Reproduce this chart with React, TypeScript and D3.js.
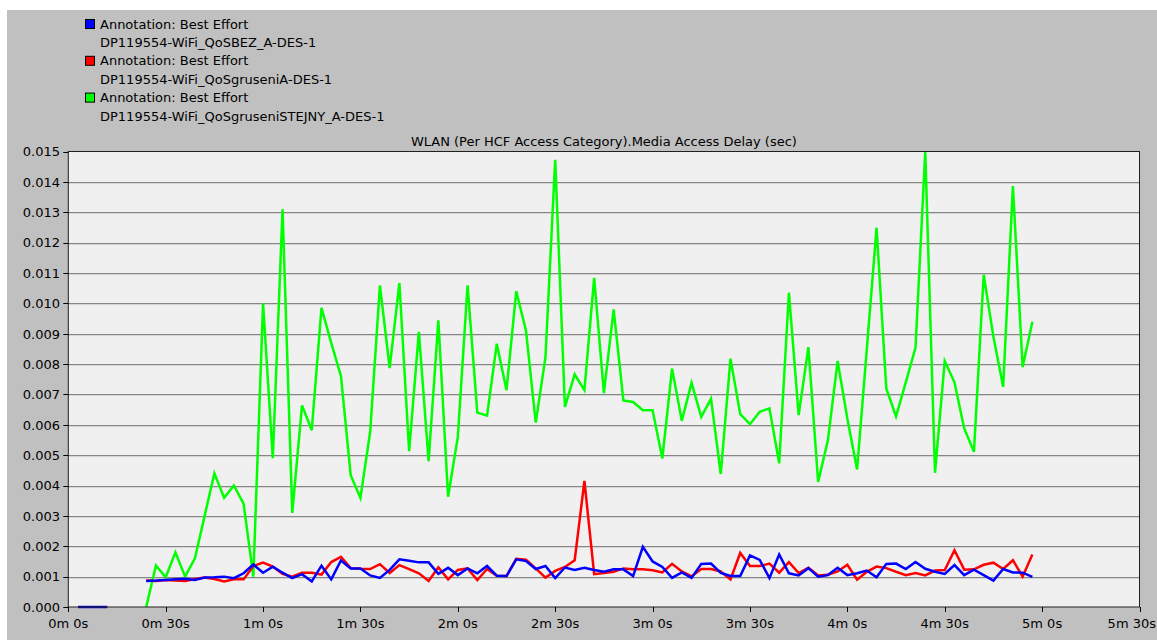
import React from "react";
import * as d3 from "d3";

// ---- data (values in milliseconds, sampled every 3 s starting at 24 s) ----
const startTime = 24;
const step = 3;

const greenValues = [
  0, 1.37, 0.98, 1.8, 1.0, 1.6, 3.0, 4.4, 3.6, 4.0, 3.4, 1.0, 10.0, 4.9, 13.1, 3.1,
  6.64, 5.82, 9.85, 8.7, 7.6, 4.34, 3.59, 5.77, 10.59, 7.87, 10.67, 5.13, 9.06, 4.8,
  9.44, 3.63, 5.6, 10.59, 6.4, 6.3, 8.67, 7.14, 10.4, 9.1, 6.07, 8.23, 14.73, 6.59,
  7.66, 7.14, 10.84, 7.04, 9.8, 6.8, 6.75, 6.48, 6.48, 4.89, 7.85, 6.13, 7.38, 6.26,
  6.86, 4.38, 8.18, 6.35, 6.02, 6.43, 6.54, 4.73, 10.35, 6.32, 8.56, 4.12, 5.49, 8.1,
  6.2, 4.53, 8.5, 12.49, 7.19, 6.28, 7.4, 8.54, 15.0, 4.42, 8.1, 7.4, 5.88, 5.11,
  10.94, 8.9, 7.25, 13.86, 7.9, 9.39,
];

const redValues = [
  0.87, 0.86, 0.89, 0.87, 0.86, 0.92, 0.97, 0.92, 0.84, 0.91, 0.91, 1.35, 1.46, 1.33,
  1.09, 1.0, 1.13, 1.13, 1.07, 1.48, 1.65, 1.28, 1.26, 1.25, 1.41, 1.12, 1.38, 1.25,
  1.11, 0.86, 1.31, 0.91, 1.22, 1.27, 0.89, 1.25, 1.03, 1.02, 1.59, 1.56, 1.27, 0.97,
  1.19, 1.32, 1.54, 4.15, 1.08, 1.12, 1.16, 1.27, 1.24, 1.24, 1.21, 1.14, 1.42, 1.17,
  1.01, 1.25, 1.25, 1.17, 0.91, 1.78, 1.35, 1.35, 1.43, 1.13, 1.48, 1.12, 1.29, 1.04,
  1.06, 1.17, 1.39, 0.9, 1.16, 1.33, 1.28, 1.16, 1.05, 1.12, 1.04, 1.2, 1.22, 1.87,
  1.23, 1.24, 1.39, 1.46, 1.25, 1.54, 1.0, 1.73,
];

const blueValues = [
  0.86, 0.87, 0.89, 0.91, 0.93, 0.89, 0.97, 0.98, 1.0, 0.95, 1.11, 1.4, 1.13, 1.33,
  1.13, 0.95, 1.08, 0.84, 1.36, 0.91, 1.53, 1.27, 1.27, 1.04, 0.96, 1.22, 1.57, 1.52,
  1.47, 1.47, 1.09, 1.29, 1.05, 1.27, 1.11, 1.35, 1.03, 1.02, 1.57, 1.51, 1.25, 1.35,
  0.95, 1.3, 1.22, 1.29, 1.22, 1.16, 1.24, 1.24, 1.02, 1.98, 1.5, 1.32, 0.96, 1.14,
  0.96, 1.42, 1.43, 1.12, 1.02, 1.02, 1.7, 1.55, 0.95, 1.73, 1.11, 1.04, 1.28, 1.0,
  1.05, 1.29, 1.05, 1.11, 1.2, 0.98, 1.42, 1.43, 1.25, 1.48, 1.26, 1.16, 1.09, 1.38,
  1.05, 1.23, 1.05, 0.87, 1.25, 1.14, 1.13, 0.99,
];

// short initial blue segment at zero
const blueStartTimes = [3, 6, 9, 12];
const blueStartValues = [0, 0, 0, 0];

const yTicks = [0, 0.001, 0.002, 0.003, 0.004, 0.005, 0.006, 0.007, 0.008, 0.009, 0.01, 0.011, 0.012, 0.013, 0.014, 0.015];
const xTicks = [0, 30, 60, 90, 120, 150, 180, 210, 240, 270, 300, 330];
const xTickLabels = ["0m 0s", "0m 30s", "1m 0s", "1m 30s", "2m 0s", "2m 30s", "3m 0s", "3m 30s", "4m 0s", "4m 30s", "5m 0s", "5m 30s"];

const legendItems = [
  { color: "#0000ff", line1: "Annotation: Best Effort", line2: "DP119554-WiFi_QoSBEZ_A-DES-1" },
  { color: "#ff0000", line1: "Annotation: Best Effort", line2: "DP119554-WiFi_QoSgruseniA-DES-1" },
  { color: "#00ff00", line1: "Annotation: Best Effort", line2: "DP119554-WiFi_QoSgruseniSTEJNY_A-DES-1" },
];

const title = "WLAN (Per HCF Access Category).Media Access Delay (sec)";

const W = 1157;
const H = 640;
const left = 68.3;
const right = 1139.5;
const top = 151.5;
const bottom = 607;
const FONT = "'DejaVu Sans', sans-serif";
const FS = 13;

export default function App() {
  const x = d3.scaleLinear().domain([0, 330]).range([left, right]);
  const y = d3.scaleLinear().domain([0, 0.015]).range([bottom, top]);

  const toPts = (vals: number[]) =>
    vals.map((v, i) => [startTime + step * i, v / 1000] as [number, number]);

  const line = d3
    .line<[number, number]>()
    .x((d) => x(d[0]))
    .y((d) => y(d[1]));

  const greenPath = line(toPts(greenValues)) || "";
  const redPath = line(toPts(redValues)) || "";
  const bluePath = line(toPts(blueValues)) || "";
  const blueStartPath =
    line(blueStartTimes.map((t, i) => [t, blueStartValues[i]] as [number, number])) || "";

  return (
    <svg
      width={W}
      height={H}
      style={{ position: "absolute", left: 0, top: 0, display: "block" }}
      fontFamily={FONT}
    >
      <rect x={0} y={0} width={W} height={H} fill="#ffffff" />
      <rect x={7} y={10} width={W - 7} height={H - 10} fill="#c0c0c0" />

      {/* legend */}
      {legendItems.map((it, k) => {
        const base = 28.5 + k * 36.8;
        return (
          <g key={k}>
            <rect x={85.5} y={base - 9} width={9} height={9} fill={it.color} stroke="#000" strokeWidth={1} />
            <text x={100} y={base} fontSize={FS} fill="#000">{it.line1}</text>
            <text x={100} y={base + 18.4} fontSize={FS} fill="#000">{it.line2}</text>
          </g>
        );
      })}

      {/* title */}
      <text x={(left + right) / 2} y={146} fontSize={FS} textAnchor="middle" fill="#000">
        {title}
      </text>

      {/* plot background */}
      <rect x={left} y={top} width={right - left} height={bottom - top} fill="#f0f0f0" />

      {/* grid */}
      {yTicks.slice(1, -1).map((t) => (
        <g key={t}>
          <line x1={left} x2={right} y1={Math.round(y(t)) + 0.5} y2={Math.round(y(t)) + 0.5} stroke="#868686" strokeWidth={1} />
          <line x1={left} x2={right} y1={Math.round(y(t)) + 1.5} y2={Math.round(y(t)) + 1.5} stroke="#d4d4d4" strokeWidth={1} />
        </g>
      ))}

      {/* series */}
      <path d={greenPath} fill="none" stroke="#00ff00" strokeWidth={2.5} />
      <path d={redPath} fill="none" stroke="#ff0000" strokeWidth={2.5} />
      <path d={bluePath} fill="none" stroke="#0000ff" strokeWidth={2.5} />
      <path d={blueStartPath} fill="none" stroke="#0000cc" strokeWidth={2.5} />

      {/* frame */}
      <rect x={left} y={top} width={right - left} height={bottom - top} fill="none" stroke="#202020" strokeWidth={1} />

      {/* y axis ticks/labels */}
      {yTicks.map((t) => (
        <g key={"y" + t}>
          <line x1={left - 5} x2={left} y1={Math.round(y(t)) + 0.5} y2={Math.round(y(t)) + 0.5} stroke="#000" />
          <text x={60} y={y(t) + 4.8} fontSize={FS} textAnchor="end" fill="#000">
            {t.toFixed(3)}
          </text>
        </g>
      ))}

      {/* x axis ticks/labels */}
      {xTicks.map((t, i) => {
        const last = i === xTicks.length - 1;
        return (
          <g key={"x" + t}>
            <line x1={Math.round(x(t)) + 0.5} x2={Math.round(x(t)) + 0.5} y1={bottom} y2={bottom + 5} stroke="#000" />
            <text
              x={last ? W - 1 : x(t)}
              y={627.5}
              fontSize={FS}
              textAnchor={last ? "end" : "middle"}
              fill="#000"
            >
              {xTickLabels[i]}
            </text>
          </g>
        );
      })}
    </svg>
  );
}
